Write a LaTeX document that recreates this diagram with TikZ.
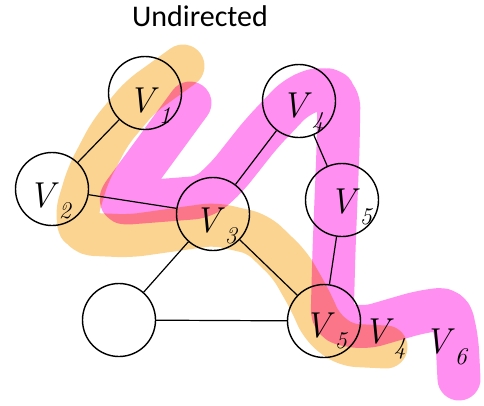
\documentclass[tikz,border=0pt]{standalone}
\usepackage{fontspec}
\newfontfamily\titlefont{Carlito}
\definecolor{hlorange}{RGB}{251,212,146}
\definecolor{hlpink}{RGB}{255,143,240}
% handwritten-style vertex name: italic V with a lowered index
\newcommand{\vname}[1]{\textit{V}\raisebox{-0.33em}{\fontsize{24}{24}\selectfont\itshape #1}}

\begin{document}
\begin{tikzpicture}[x=1pt,y=-1pt,
    vertex/.style={circle,draw,line width=1.4pt,minimum size=73pt,inner sep=0pt},
    hand/.style={anchor=base west,inner sep=0pt,font=\fontsize{36}{36}\selectfont},
    marker/.style={line width=43pt,line cap=round,line join=round,rounded corners=12pt}]
   \useasboundingbox (0,0) rectangle (484,405);
   \fill[white] (0,0) rectangle (484,405);
   % highlighter strokes
   \draw[marker,hlorange] (183,66) -- (140,97) -- (110,133) -- (88,175) -- (76,215)
      -- (82,234) -- (130,236) -- (215,224) -- (258,234) -- (290,265) -- (310,300)
      -- (322,327) -- (345,345) -- (386,347);
   \draw[marker,hlpink,blend mode=multiply] (190,103) -- (116,204) -- (205,197)
      -- (227,177) -- (261,134) -- (296,97) -- (322,87) -- (339,95) -- (338,150)
      -- (334,250) -- (332,322) -- (365,328) -- (420,312) -- (450,308) -- (457,340)
      -- (459,379);
   \node[font=\titlefont\fontsize{30}{30}\selectfont] (title) at (200,16) {Undirected};
   \node[vertex] (v1) at (145,93)  {};
   \node[vertex] (v2) at (52,189)  {};
   \node[vertex] (v3) at (213,214) {};
   \node[vertex] (v4) at (299,101) {};
   \node[vertex] (v5) at (342,200) {};
   \node[vertex] (v6) at (324,321) {};
   \node[vertex] (v0) at (119,320) {};
   \path[line width=1.2pt]
    (v1) edge (v2)
    (v2) edge (v3)
    (v3) edge (v4)
    (v4) edge (v5)
    (v5) edge (v6)
    (v3) edge (v6)
    (v3) edge (v0)
    (v0) edge (v6);
   \node[hand] (l1) at (128,112) {\vname{1}};
   \node[hand] (l2) at (28,207)  {\vname{2}};
   \node[hand] (l3) at (194,232) {\vname{3}};
   \node[hand] (l4) at (281,117) {\vname{4}};
   \node[hand] (l5) at (329,213) {\vname{5}};
   \node[hand] (l6) at (304,337) {\vname{5}};
   \node[hand] (l7) at (363,343) {\vname{4}};
   \node[hand] (l8) at (424,353) {\vname{6}};
\end{tikzpicture}
\end{document}
